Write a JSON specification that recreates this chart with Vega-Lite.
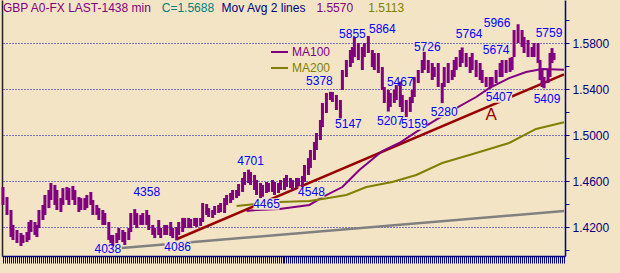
{
"$schema": "https://vega.github.io/schema/vega-lite/v6.json",
"width": 563, "height": 256,
"autosize": {"type": "none"},
"padding": {"left": 2, "top": 0, "right": 55, "bottom": 17},
"background": "#f3e4c6",
"config": {"view": {"stroke": null, "fill": "#f3e4c6"}, "font": "Liberation Sans", "text": {"font": "Liberation Sans"}},
"datasets": {
"bars": [
{"t":0,"h":1.4550,"l":1.4394},{"t":2,"h":1.4463,"l":1.4307},{"t":4,"h":1.4350,"l":1.4115},{"t":5,"h":1.4220,"l":1.4089},{"t":7,"h":1.4176,"l":1.4063},{"t":9,"h":1.4150,"l":1.4037},{"t":10,"h":1.4133,"l":1.4063},{"t":12,"h":1.4159,"l":1.4072},{"t":13,"h":1.4246,"l":1.4089},{"t":14,"h":1.4263,"l":1.4159},{"t":16,"h":1.4246,"l":1.4133},{"t":17,"h":1.4220,"l":1.4115},{"t":18,"h":1.4350,"l":1.4193},{"t":20,"h":1.4394,"l":1.4263},{"t":21,"h":1.4481,"l":1.4307},{"t":23,"h":1.4524,"l":1.4367},{"t":24,"h":1.4585,"l":1.4437},{"t":26,"h":1.4568,"l":1.4394},{"t":27,"h":1.4524,"l":1.4350},{"t":29,"h":1.4454,"l":1.4333},{"t":30,"h":1.4541,"l":1.4394},{"t":32,"h":1.4550,"l":1.4437},{"t":33,"h":1.4541,"l":1.4394},{"t":35,"h":1.4559,"l":1.4437},{"t":36,"h":1.4524,"l":1.4394},{"t":38,"h":1.4463,"l":1.4333},{"t":39,"h":1.4454,"l":1.4350},{"t":41,"h":1.4454,"l":1.4350},{"t":42,"h":1.4481,"l":1.4367},{"t":44,"h":1.4507,"l":1.4394},{"t":45,"h":1.4437,"l":1.4307},{"t":47,"h":1.4394,"l":1.4307},{"t":48,"h":1.4367,"l":1.4263},{"t":50,"h":1.4350,"l":1.4220},{"t":51,"h":1.4324,"l":1.4220},{"t":53,"h":1.4246,"l":1.4089},{"t":54,"h":1.4133,"l":1.4063},{"t":55,"h":1.4133,"l":1.4038},{"t":57,"h":1.4150,"l":1.4063},{"t":58,"h":1.4193,"l":1.4089},{"t":60,"h":1.4176,"l":1.4072},{"t":61,"h":1.4159,"l":1.4046},{"t":63,"h":1.4193,"l":1.4089},{"t":64,"h":1.4324,"l":1.4159},{"t":66,"h":1.4358,"l":1.4220},{"t":67,"h":1.4324,"l":1.4193},{"t":69,"h":1.4307,"l":1.4220},{"t":70,"h":1.4324,"l":1.4220},{"t":72,"h":1.4350,"l":1.4220},{"t":73,"h":1.4307,"l":1.4176},{"t":75,"h":1.4220,"l":1.4133},{"t":76,"h":1.4193,"l":1.4106},{"t":78,"h":1.4263,"l":1.4133},{"t":79,"h":1.4193,"l":1.4106},{"t":81,"h":1.4220,"l":1.4133},{"t":82,"h":1.4220,"l":1.4133},{"t":84,"h":1.4246,"l":1.4124},{"t":85,"h":1.4193,"l":1.4106},{"t":87,"h":1.4202,"l":1.4086},{"t":88,"h":1.4246,"l":1.4133},{"t":90,"h":1.4281,"l":1.4159},{"t":91,"h":1.4281,"l":1.4193},{"t":93,"h":1.4281,"l":1.4193},{"t":94,"h":1.4272,"l":1.4193},{"t":96,"h":1.4281,"l":1.4211},{"t":97,"h":1.4281,"l":1.4202},{"t":99,"h":1.4281,"l":1.4211},{"t":100,"h":1.4411,"l":1.4246},{"t":102,"h":1.4402,"l":1.4307},{"t":103,"h":1.4367,"l":1.4289},{"t":105,"h":1.4350,"l":1.4281},{"t":106,"h":1.4385,"l":1.4307},{"t":108,"h":1.4394,"l":1.4324},{"t":109,"h":1.4411,"l":1.4333},{"t":111,"h":1.4454,"l":1.4324},{"t":112,"h":1.4481,"l":1.4394},{"t":114,"h":1.4498,"l":1.4411},{"t":115,"h":1.4524,"l":1.4437},{"t":117,"h":1.4524,"l":1.4454},{"t":118,"h":1.4576,"l":1.4472},{"t":120,"h":1.4629,"l":1.4507},{"t":121,"h":1.4681,"l":1.4568},{"t":123,"h":1.4701,"l":1.4585},{"t":124,"h":1.4681,"l":1.4568},{"t":126,"h":1.4655,"l":1.4524},{"t":127,"h":1.4611,"l":1.4481},{"t":129,"h":1.4585,"l":1.4454},{"t":130,"h":1.4568,"l":1.4465},{"t":132,"h":1.4594,"l":1.4498},{"t":133,"h":1.4585,"l":1.4507},{"t":135,"h":1.4611,"l":1.4507},{"t":136,"h":1.4594,"l":1.4481},{"t":138,"h":1.4585,"l":1.4498},{"t":139,"h":1.4611,"l":1.4524},{"t":141,"h":1.4629,"l":1.4524},{"t":142,"h":1.4655,"l":1.4550},{"t":144,"h":1.4629,"l":1.4541},{"t":145,"h":1.4611,"l":1.4524},{"t":147,"h":1.4629,"l":1.4541},{"t":148,"h":1.4629,"l":1.4559},{"t":150,"h":1.4646,"l":1.4548},{"t":151,"h":1.4742,"l":1.4594},{"t":153,"h":1.4802,"l":1.4655},{"t":154,"h":1.4872,"l":1.4716},{"t":156,"h":1.4942,"l":1.4785},{"t":157,"h":1.5020,"l":1.4872},{"t":159,"h":1.5133,"l":1.4959},{"t":160,"h":1.5281,"l":1.5072},{"t":162,"h":1.5368,"l":1.5194},{"t":164,"h":1.5378,"l":1.5307},{"t":165,"h":1.5377,"l":1.5290},{"t":167,"h":1.5351,"l":1.5220},{"t":169,"h":1.5307,"l":1.5147},{"t":170,"h":1.5568,"l":1.5394},{"t":172,"h":1.5655,"l":1.5507},{"t":174,"h":1.5742,"l":1.5594},{"t":175,"h":1.5768,"l":1.5629},{"t":176,"h":1.5855,"l":1.5681},{"t":178,"h":1.5803,"l":1.5655},{"t":180,"h":1.5768,"l":1.5568},{"t":181,"h":1.5803,"l":1.5681},{"t":183,"h":1.5864,"l":1.5716},{"t":185,"h":1.5742,"l":1.5594},{"t":186,"h":1.5716,"l":1.5568},{"t":188,"h":1.5716,"l":1.5542},{"t":190,"h":1.5594,"l":1.5394},{"t":191,"h":1.5420,"l":1.5281},{"t":193,"h":1.5394,"l":1.5207},{"t":194,"h":1.5368,"l":1.5246},{"t":196,"h":1.5394,"l":1.5281},{"t":197,"h":1.5437,"l":1.5307},{"t":199,"h":1.5467,"l":1.5246},{"t":200,"h":1.5351,"l":1.5203},{"t":202,"h":1.5307,"l":1.5159},{"t":204,"h":1.5333,"l":1.5203},{"t":205,"h":1.5394,"l":1.5281},{"t":206,"h":1.5507,"l":1.5333},{"t":208,"h":1.5568,"l":1.5455},{"t":210,"h":1.5655,"l":1.5542},{"t":211,"h":1.5726,"l":1.5568},{"t":213,"h":1.5655,"l":1.5542},{"t":215,"h":1.5629,"l":1.5481},{"t":216,"h":1.5594,"l":1.5507},{"t":218,"h":1.5629,"l":1.5420},{"t":220,"h":1.5455,"l":1.5280},{"t":221,"h":1.5594,"l":1.5420},{"t":223,"h":1.5629,"l":1.5455},{"t":225,"h":1.5568,"l":1.5481},{"t":226,"h":1.5655,"l":1.5507},{"t":227,"h":1.5681,"l":1.5568},{"t":229,"h":1.5742,"l":1.5594},{"t":230,"h":1.5764,"l":1.5629},{"t":232,"h":1.5716,"l":1.5594},{"t":234,"h":1.5681,"l":1.5542},{"t":235,"h":1.5716,"l":1.5568},{"t":237,"h":1.5655,"l":1.5507},{"t":239,"h":1.5629,"l":1.5481},{"t":240,"h":1.5568,"l":1.5455},{"t":242,"h":1.5507,"l":1.5420},{"t":244,"h":1.5507,"l":1.5407},{"t":245,"h":1.5507,"l":1.5420},{"t":247,"h":1.5568,"l":1.5455},{"t":249,"h":1.5629,"l":1.5507},{"t":250,"h":1.5655,"l":1.5507},{"t":252,"h":1.5655,"l":1.5542},{"t":254,"h":1.5674,"l":1.5551},{"t":255,"h":1.5681,"l":1.5568},{"t":256,"h":1.5916,"l":1.5681},{"t":258,"h":1.5966,"l":1.5803},{"t":260,"h":1.5916,"l":1.5768},{"t":261,"h":1.5855,"l":1.5716},{"t":263,"h":1.5829,"l":1.5681},{"t":265,"h":1.5768,"l":1.5681},{"t":266,"h":1.5803,"l":1.5681},{"t":268,"h":1.5803,"l":1.5629},{"t":269,"h":1.5655,"l":1.5481},{"t":270,"h":1.5568,"l":1.5420},{"t":271,"h":1.5507,"l":1.5409},{"t":273,"h":1.5568,"l":1.5455},{"t":274,"h":1.5716,"l":1.5507},{"t":275,"h":1.5759,"l":1.5629},{"t":276,"h":1.5716,"l":1.5655}
],
"ma": [
{"ma":"MA100","t":122,"p":1.4341},{"ma":"MA100","t":127,"p":1.4350},{"ma":"MA100","t":138.5,"p":1.4359},{"ma":"MA100","t":153.5,"p":1.4394},{"ma":"MA100","t":160,"p":1.4463},{"ma":"MA100","t":170,"p":1.4550},{"ma":"MA100","t":178.5,"p":1.4698},{"ma":"MA100","t":190,"p":1.4863},{"ma":"MA100","t":198.5,"p":1.4933},{"ma":"MA100","t":207,"p":1.5029},{"ma":"MA100","t":218.5,"p":1.5151},{"ma":"MA100","t":227,"p":1.5237},{"ma":"MA100","t":237,"p":1.5333},{"ma":"MA100","t":243.5,"p":1.5411},{"ma":"MA100","t":253.5,"p":1.5498},{"ma":"MA100","t":262,"p":1.5551},{"ma":"MA100","t":270,"p":1.5577},{"ma":"MA100","t":281,"p":1.5570},
{"ma":"MA200","t":117,"p":1.4385},{"ma":"MA200","t":127,"p":1.4402},{"ma":"MA200","t":138.5,"p":1.4420},{"ma":"MA200","t":153.5,"p":1.4428},{"ma":"MA200","t":160,"p":1.4446},{"ma":"MA200","t":172,"p":1.4481},{"ma":"MA200","t":182,"p":1.4550},{"ma":"MA200","t":195,"p":1.4594},{"ma":"MA200","t":207,"p":1.4655},{"ma":"MA200","t":220,"p":1.4759},{"ma":"MA200","t":237,"p":1.4846},{"ma":"MA200","t":253.5,"p":1.4933},{"ma":"MA200","t":267,"p":1.5055},{"ma":"MA200","t":281,"p":1.5113}
],
"trends": [
{"line":"support","t":87.5,"p":1.4100},{"line":"support","t":281,"p":1.5530},
{"line":"long","t":59.5,"p":1.4019},{"line":"long","t":281,"p":1.4341}
],
"labels": [
{"txt":"4038","t":52.5,"p":1.4011},{"txt":"4086","t":87.5,"p":1.4028},{"txt":"4358","t":72,"p":1.4507},{"txt":"4701","t":124,"p":1.4776},{"txt":"4465","t":132,"p":1.4402},{"txt":"4548","t":154.5,"p":1.4507},{"txt":"5147","t":173,"p":1.5098},{"txt":"5378","t":158.5,"p":1.5472},{"txt":"5855","t":175,"p":1.5881},{"txt":"5864","t":190,"p":1.5925},{"txt":"5207","t":194,"p":1.5124},{"txt":"5159","t":206,"p":1.5098},{"txt":"5467","t":199,"p":1.5464},{"txt":"5726","t":212.5,"p":1.5768},{"txt":"5280","t":221,"p":1.5203},{"txt":"5764","t":233.5,"p":1.5881},{"txt":"5674","t":247,"p":1.5742},{"txt":"5966","t":247.5,"p":1.5977},{"txt":"5759","t":273.5,"p":1.5890},{"txt":"5407","t":248.5,"p":1.5333},{"txt":"5409","t":272.5,"p":1.5316}
],
"pattern": [{"txt":"A","t":244.5,"p":1.5177}],
"header": [
{"txt":"GBP A0-FX LAST-1438 min","kind":"title","t":0,"p":1.6107},
{"txt":"C=1.5688","kind":"close","t":79.5,"p":1.6107},
{"txt":"Mov Avg 2 lines","kind":"study","t":109.5,"p":1.6107},
{"txt":"1.5570","kind":"MA100","t":157,"p":1.6107},
{"txt":"1.5113","kind":"MA200","t":183,"p":1.6107}
]
},
"encoding": {
"x": {"field": "t", "type": "quantitative", "scale": {"domain": [-0.5, 281.5], "nice": false, "zero": false},
 "axis": {"orient": "bottom", "labels": false, "title": null, "grid": false, "tickCount": 282, "tickSize": 7, "tickColor": "#000080", "tickWidth": 1, "domainColor": "#000080", "domainWidth": 1.5}}
},
"resolve": {"scale": {"color": "independent"}, "axis": {"y": "independent"}},
"layer": [
{"data": {"name": "trends"}, "mark": {"type": "line", "strokeWidth": 2.5},
 "encoding": {
  "y": {"field": "p", "type": "quantitative", "scale": {"domain": [1.395, 1.6177], "nice": false, "zero": false},
   "axis": {"orient": "left", "title": null, "labels": false, "ticks": false, "grid": false, "domainColor": "#202020", "domainWidth": 1.5}},
  "color": {"field": "line", "type": "nominal", "scale": {"domain": ["support", "long"], "range": ["#990000", "#808080"]}, "legend": null},
  "detail": {"field": "line"}
 }},
{"data": {"name": "ma"}, "mark": {"type": "line", "strokeWidth": 2},
 "encoding": {
  "y": {"field": "p", "type": "quantitative", "scale": {"domain": [1.395, 1.6177], "nice": false, "zero": false}, "axis": null},
  "color": {"field": "ma", "type": "nominal", "scale": {"domain": ["MA100", "MA200"], "range": ["#800080", "#808000"]},
   "legend": {"orient": "none", "legendX": 268, "legendY": 42.5, "title": null, "symbolType": "stroke", "symbolSize": 289, "symbolStrokeWidth": 2, "labelFontSize": 12, "labelFont": "Liberation Sans", "rowPadding": -3, "padding": 0, "labelOffset": 3,
    "encode": {"labels": {"update": {"fill": {"signal": "datum.value === 'MA100' ? '#800080' : '#808000'"}}}}}}
 }},
{"data": {"name": "labels"}, "mark": {"type": "point", "shape": "M-1,-0.44H1V0.44H-1Z", "size": 676, "filled": true, "color": "#f3e4c6", "opacity": 1, "strokeWidth": 0},
 "encoding": {
  "y": {"field": "p", "type": "quantitative", "scale": {"domain": [1.395, 1.6177], "nice": false, "zero": false}, "axis": null}
 }},
{"data": {"name": "bars"}, "mark": {"type": "rule", "color": "#800080", "strokeWidth": 3},
 "encoding": {
  "y": {"field": "l", "type": "quantitative", "scale": {"domain": [1.395, 1.6177], "nice": false, "zero": false},
   "axis": {"orient": "right", "title": null, "values": [1.40,1.42,1.44,1.46,1.48,1.50,1.52,1.54,1.56,1.58,1.60], "format": ".4f",
    "labelExpr": "round(datum.value*100) % 4 == 2 ? datum.label : ''", "labelOverlap": false, "labelBound": false,
    "grid": true, "gridColor": "#0000c0", "gridDash": [1, 2], "gridWidth": 1,
    "gridOpacity": {"condition": {"test": "round(datum.value*100) % 4 == 2", "value": 1}, "value": 0},
    "tickSize": 4, "tickColor": "#000080", "domainColor": "#000080", "domainWidth": 1.5, "labelColor": "#000080", "labelFontSize": 12, "labelFont": "Liberation Sans", "labelPadding": 3}},
  "y2": {"field": "h"}
 }},
{"data": {"name": "labels"}, "mark": {"type": "text", "color": "#0000ff", "fontSize": 12, "align": "center", "baseline": "middle"},
 "encoding": {
  "y": {"field": "p", "type": "quantitative", "scale": {"domain": [1.395, 1.6177], "nice": false, "zero": false}, "axis": null},
  "text": {"field": "txt"}
 }},
{"data": {"name": "pattern"}, "mark": {"type": "text", "color": "#990000", "fontSize": 17, "align": "center", "baseline": "middle"},
 "encoding": {
  "y": {"field": "p", "type": "quantitative", "scale": {"domain": [1.395, 1.6177], "nice": false, "zero": false}, "axis": null},
  "text": {"field": "txt"}
 }},
{"data": {"name": "header"}, "mark": {"type": "text", "fontSize": 12, "align": "left", "baseline": "middle"},
 "encoding": {
  "y": {"field": "p", "type": "quantitative", "scale": {"domain": [1.395, 1.6177], "nice": false, "zero": false}, "axis": null},
  "text": {"field": "txt"},
  "color": {"field": "kind", "type": "nominal", "scale": {"domain": ["title", "close", "study", "MA100", "MA200"], "range": ["#800080", "#008080", "#000080", "#800080", "#808000"]}, "legend": null}
 }}
]
}
